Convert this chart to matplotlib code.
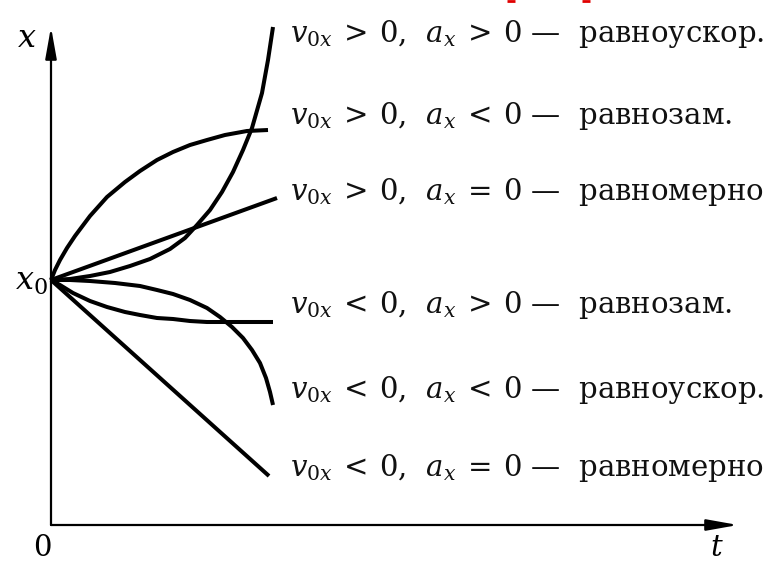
import numpy as np
import matplotlib
matplotlib.use("Agg")
import matplotlib.pyplot as plt

plt.rcParams['font.family'] = ['DejaVu Serif']
plt.rcParams['mathtext.fontset'] = 'dejavuserif'

# x(t) curves (t, x in drawing units, origin at the axes corner)
x0 = 245
c1_t = [0, 19, 39, 59, 79, 99, 119, 134, 146, 159, 171, 182, 192, 201, 211, 217, 222]
c1_x = [245, 246, 249, 253, 259, 266, 276, 287, 300, 315, 333, 353, 375, 397, 432, 465, 498]
c2_t = [0, 4, 9, 16, 24, 39, 56, 74, 89, 106, 122, 139, 156, 174, 196, 217]
c2_x = [245, 255, 265, 277, 289, 309, 328, 343, 354, 365, 373, 380, 385, 390, 394, 395]
c3_t = [0, 226]
c3_x = [245, 327]
c4_t = [0, 9, 22, 39, 56, 74, 89, 106, 122, 139, 156, 189, 222]
c4_x = [245, 240, 232, 224, 218, 213, 210, 207, 206, 204, 203, 203, 203]
c5_t = [0, 19, 39, 64, 89, 106, 122, 139, 156, 169, 181, 192, 201, 209, 215, 219, 222]
c5_x = [245, 245, 244, 242, 239, 235, 231, 225, 217, 208, 198, 187, 175, 162, 147, 133, 120]
c6_t = [0, 218]
c6_x = [245, 49]

signs_v = ['>', '>', '>', '<', '<', '<']
signs_a = ['>', '<', '=', '>', '<', '=']
motion = ['равноускор.', 'равнозам.', 'равномерно', 'равнозам.', 'равноускор.', 'равномерно']
label_x = [491, 409, 333, 220, 135, 57]

fig = plt.figure(figsize=(7.83, 5.61), dpi=100)
ax = fig.add_axes([0, 0, 1, 1])
ax.set_xlim(-51, 732)
ax.set_ylim(-36, 525)
ax.axis('off')

# axes with arrows
arr = dict(arrowstyle='-|>,head_length=0.95,head_width=0.17', lw=1.6, color='k',
           shrinkA=0, shrinkB=0, mutation_scale=20)
ax.annotate('', xy=(0, 498), xytext=(0, 0), arrowprops=arr)
ax.annotate('', xy=(687, 0), xytext=(0, 0), arrowprops=arr)

for t, x in [(c1_t, c1_x), (c2_t, c2_x), (c3_t, c3_x),
             (c4_t, c4_x), (c5_t, c5_x), (c6_t, c6_x)]:
    ax.plot(t, x, color='k', lw=2.9, solid_joinstyle='round', solid_capstyle='butt')

for sv, sa, m, y in zip(signs_v, signs_a, motion, label_x):
    s = r'$v_{0x}\:%s\:0$,  $a_x\:%s\:0$ —  %s' % (sv, sa, m)
    ax.text(239, y, s, fontsize=21, ha='left', va='center', color='#111111')

ax.text(-24, 487, r'$x$', fontsize=23, ha='center', va='center')
ax.text(-3, x0 - 1, r'$x_0$', fontsize=23, ha='right', va='center')
ax.text(-9, -23, '0', fontsize=21, ha='center', va='center')
ax.text(666, -23, r'$t$', fontsize=21, ha='center', va='center')

# red scraps at the top edge
ax.plot([456, 464], [524.5, 524.5], color='#e00000', lw=2, solid_capstyle='butt')
ax.plot([531, 539], [524.5, 524.5], color='#e00000', lw=2, solid_capstyle='butt')

fig.savefig('out.png', dpi=100)
